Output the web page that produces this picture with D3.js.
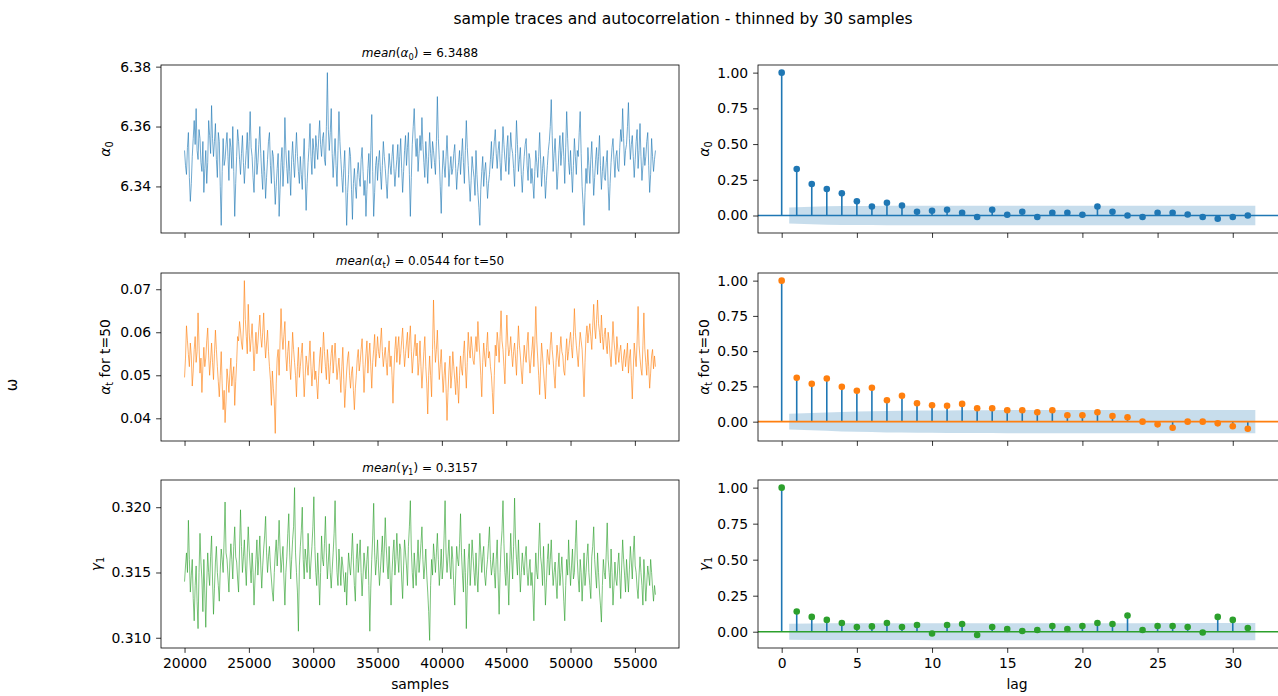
<!DOCTYPE html>
<html><head><meta charset="utf-8">
<script src="https://cdn.jsdelivr.net/npm/d3@7"></script>
<style>body{margin:0;background:#fff} svg{display:block;font-family:"DejaVu Sans",sans-serif}</style>
</head><body><svg id="c" width="1278" height="696"></svg>
<script>
// ---------------- data ----------------
const sampleStart = 20000, sampleStep = 75;
const alpha0Trace = [
6.352,6.347,6.344,6.353,6.358,6.343,6.335,6.341,6.350,6.356,6.362,6.354,6.366,6.352,6.349,6.359,6.356,6.348,6.345,6.355,
6.338,6.346,6.352,6.341,6.348,6.362,6.357,6.351,6.367,6.356,6.350,6.355,6.361,6.349,6.343,6.358,6.355,6.340,6.327,6.345,
6.356,6.347,6.349,6.354,6.358,6.350,6.342,6.356,6.353,6.346,6.360,6.345,6.330,6.341,6.350,6.359,6.355,6.349,6.344,6.351,
6.357,6.348,6.341,6.347,6.352,6.358,6.346,6.355,6.365,6.353,6.350,6.343,6.338,6.349,6.356,6.344,6.348,6.354,6.360,6.351,
6.344,6.339,6.352,6.345,6.336,6.343,6.349,6.355,6.358,6.347,6.341,6.352,6.350,6.342,6.334,6.340,6.346,6.351,6.330,6.339,
6.348,6.353,6.340,6.347,6.363,6.352,6.346,6.341,6.352,6.345,6.337,6.349,6.355,6.348,6.343,6.351,6.358,6.350,6.345,6.341,
6.350,6.344,6.339,6.349,6.356,6.343,6.332,6.341,6.348,6.353,6.361,6.350,6.344,6.356,6.352,6.346,6.357,6.353,6.349,6.356,
6.362,6.354,6.350,6.356,6.358,6.349,6.347,6.360,6.378,6.359,6.352,6.358,6.366,6.351,6.343,6.350,6.356,6.347,6.340,6.352,
6.365,6.355,6.349,6.343,6.338,6.346,6.352,6.340,6.327,6.338,6.344,6.353,6.350,6.339,6.329,6.341,6.346,6.340,6.336,6.344,
6.348,6.343,6.340,6.349,6.353,6.345,6.337,6.342,6.330,6.339,6.346,6.351,6.341,6.352,6.364,6.345,6.330,6.338,6.347,6.350,
6.342,6.348,6.352,6.345,6.339,6.347,6.355,6.350,6.346,6.341,6.336,6.344,6.351,6.347,6.344,6.350,6.354,6.346,6.340,6.345,
6.349,6.354,6.343,6.350,6.356,6.346,6.338,6.345,6.352,6.357,6.347,6.353,6.358,6.344,6.330,6.343,6.354,6.360,6.366,6.356,
6.350,6.356,6.345,6.351,6.357,6.352,6.363,6.354,6.348,6.343,6.355,6.349,6.341,6.350,6.358,6.351,6.346,6.355,6.352,6.348,
6.344,6.355,6.370,6.356,6.349,6.340,6.331,6.344,6.352,6.347,6.343,6.350,6.357,6.349,6.340,6.346,6.350,6.344,6.346,6.351,
6.354,6.346,6.339,6.345,6.348,6.352,6.344,6.350,6.356,6.348,6.341,6.352,6.362,6.353,6.347,6.341,6.335,6.342,6.350,6.346,
6.343,6.337,6.352,6.344,6.338,6.333,6.327,6.339,6.345,6.350,6.340,6.345,6.348,6.342,6.336,6.341,6.344,6.349,6.355,6.346,
6.350,6.355,6.359,6.351,6.346,6.352,6.355,6.348,6.342,6.351,6.360,6.354,6.349,6.345,6.353,6.357,6.344,6.350,6.358,6.353,
6.351,6.346,6.340,6.351,6.362,6.354,6.345,6.349,6.353,6.344,6.338,6.345,6.350,6.354,6.356,6.347,6.342,6.351,6.349,6.341,
6.346,6.341,6.336,6.345,6.352,6.348,6.343,6.350,6.358,6.349,6.340,6.346,6.350,6.344,6.336,6.342,6.347,6.352,6.355,6.360,
6.369,6.357,6.345,6.351,6.356,6.348,6.339,6.345,6.352,6.357,6.347,6.352,6.358,6.350,6.341,6.353,6.365,6.356,6.348,6.344,
6.352,6.345,6.338,6.347,6.356,6.350,6.344,6.352,6.350,6.358,6.365,6.351,6.340,6.334,6.327,6.338,6.346,6.341,6.353,6.347,
6.341,6.349,6.355,6.346,6.337,6.343,6.349,6.353,6.344,6.350,6.357,6.347,6.339,6.345,6.350,6.343,6.342,6.348,6.352,6.340,
6.332,6.341,6.348,6.353,6.356,6.349,6.343,6.350,6.352,6.346,6.345,6.353,6.359,6.355,6.366,6.356,6.347,6.352,6.354,6.360,
6.368,6.356,6.349,6.354,6.357,6.350,6.343,6.349,6.355,6.359,6.346,6.352,6.361,6.350,6.342,6.347,6.353,6.347,6.350,6.355,
6.358,6.347,6.338,6.344,6.356,6.350,6.345,6.349,6.352];
const alphaTTrace = [
0.0495,0.0540,0.0615,0.0580,0.0548,0.0520,0.0575,0.0545,0.0475,0.0510,0.0560,0.0590,0.0530,0.0555,0.0645,0.0570,0.0505,0.0540,0.0460,0.0520,
0.0565,0.0520,0.0540,0.0580,0.0610,0.0545,0.0500,0.0535,0.0575,0.0530,0.0490,0.0550,0.0605,0.0560,0.0520,0.0485,0.0450,0.0500,0.0555,0.0480,
0.0420,0.0465,0.0390,0.0440,0.0515,0.0490,0.0460,0.0505,0.0540,0.0475,0.0500,0.0520,0.0430,0.0485,0.0530,0.0590,0.0580,0.0625,0.0605,0.0575,
0.0560,0.0610,0.0720,0.0630,0.0590,0.0550,0.0665,0.0600,0.0555,0.0585,0.0620,0.0570,0.0510,0.0560,0.0600,0.0550,0.0575,0.0610,0.0640,0.0590,
0.0565,0.0600,0.0645,0.0580,0.0540,0.0575,0.0605,0.0555,0.0520,0.0490,0.0430,0.0510,0.0470,0.0440,0.0365,0.0480,0.0540,0.0560,0.0500,0.0580,
0.0655,0.0590,0.0560,0.0595,0.0625,0.0545,0.0510,0.0555,0.0580,0.0525,0.0490,0.0540,0.0600,0.0560,0.0530,0.0500,0.0450,0.0520,0.0565,0.0495,
0.0520,0.0550,0.0575,0.0505,0.0450,0.0495,0.0545,0.0525,0.0500,0.0540,0.0580,0.0520,0.0475,0.0515,0.0555,0.0490,0.0510,0.0480,0.0445,0.0500,
0.0540,0.0565,0.0505,0.0545,0.0600,0.0555,0.0520,0.0490,0.0560,0.0530,0.0480,0.0520,0.0550,0.0570,0.0505,0.0540,0.0575,0.0530,0.0490,0.0515,
0.0540,0.0500,0.0460,0.0520,0.0565,0.0490,0.0425,0.0470,0.0510,0.0540,0.0555,0.0500,0.0470,0.0505,0.0520,0.0465,0.0420,0.0470,0.0500,0.0540,
0.0560,0.0510,0.0530,0.0560,0.0585,0.0525,0.0460,0.0515,0.0550,0.0580,0.0505,0.0545,0.0575,0.0520,0.0470,0.0530,0.0560,0.0595,0.0520,0.0550,
0.0590,0.0555,0.0540,0.0575,0.0610,0.0555,0.0520,0.0545,0.0565,0.0530,0.0500,0.0550,0.0580,0.0520,0.0545,0.0500,0.0435,0.0510,0.0560,0.0590,
0.0530,0.0565,0.0590,0.0525,0.0550,0.0580,0.0610,0.0560,0.0520,0.0550,0.0575,0.0600,0.0540,0.0580,0.0615,0.0555,0.0505,0.0540,0.0565,0.0595,
0.0545,0.0575,0.0500,0.0530,0.0580,0.0520,0.0470,0.0510,0.0555,0.0590,0.0520,0.0480,0.0410,0.0500,0.0545,0.0500,0.0450,0.0560,0.0675,0.0580,
0.0530,0.0560,0.0605,0.0540,0.0490,0.0525,0.0560,0.0505,0.0460,0.0500,0.0530,0.0470,0.0395,0.0460,0.0510,0.0545,0.0470,0.0500,0.0555,0.0520,
0.0490,0.0455,0.0520,0.0480,0.0435,0.0500,0.0545,0.0515,0.0500,0.0550,0.0580,0.0520,0.0470,0.0530,0.0600,0.0560,0.0540,0.0590,0.0565,0.0535,
0.0525,0.0560,0.0590,0.0555,0.0625,0.0580,0.0545,0.0500,0.0450,0.0530,0.0575,0.0545,0.0520,0.0565,0.0600,0.0540,0.0555,0.0520,0.0500,0.0460,
0.0410,0.0500,0.0570,0.0545,0.0600,0.0575,0.0530,0.0590,0.0650,0.0580,0.0560,0.0520,0.0480,0.0565,0.0640,0.0575,0.0545,0.0560,0.0590,0.0550,
0.0520,0.0555,0.0575,0.0540,0.0500,0.0560,0.0615,0.0570,0.0545,0.0510,0.0480,0.0530,0.0570,0.0545,0.0530,0.0575,0.0600,0.0540,0.0505,0.0535,
0.0560,0.0590,0.0520,0.0575,0.0660,0.0580,0.0540,0.0500,0.0455,0.0520,0.0575,0.0545,0.0510,0.0480,0.0445,0.0515,0.0560,0.0540,0.0525,0.0570,
0.0600,0.0560,0.0535,0.0500,0.0470,0.0530,0.0570,0.0545,0.0520,0.0560,0.0590,0.0555,0.0545,0.0510,0.0500,0.0550,0.0585,0.0535,0.0555,0.0580,
0.0600,0.0565,0.0540,0.0590,0.0655,0.0600,0.0570,0.0545,0.0520,0.0565,0.0600,0.0580,0.0560,0.0510,0.0450,0.0530,0.0590,0.0615,0.0575,0.0600,
0.0620,0.0590,0.0560,0.0615,0.0665,0.0610,0.0585,0.0630,0.0675,0.0620,0.0600,0.0575,0.0640,0.0590,0.0560,0.0595,0.0610,0.0570,0.0550,0.0600,
0.0580,0.0545,0.0520,0.0570,0.0625,0.0580,0.0555,0.0525,0.0590,0.0560,0.0530,0.0555,0.0570,0.0535,0.0510,0.0545,0.0560,0.0520,0.0545,0.0575,
0.0505,0.0540,0.0560,0.0500,0.0445,0.0510,0.0575,0.0545,0.0520,0.0580,0.0660,0.0570,0.0540,0.0515,0.0500,0.0570,0.0645,0.0560,0.0530,0.0500,
0.0560,0.0520,0.0470,0.0505,0.0545,0.0560,0.0515,0.0545,0.0520];
const gamma1Trace = [
0.3143,0.3155,0.3165,0.3150,0.3190,0.3160,0.3135,0.3148,0.3160,0.3130,0.3113,0.3140,0.3155,0.3128,0.3107,0.3150,0.3180,0.3158,0.3145,0.3120,
0.3160,0.3135,0.3108,0.3142,0.3165,0.3150,0.3140,0.3162,0.3178,0.3145,0.3118,0.3138,0.3158,0.3170,0.3150,0.3140,0.3128,0.3152,0.3168,0.3160,
0.3150,0.3175,0.3204,0.3165,0.3160,0.3148,0.3135,0.3158,0.3172,0.3160,0.3145,0.3170,0.3185,0.3162,0.3158,0.3145,0.3135,0.3168,0.3198,0.3170,
0.3150,0.3162,0.3175,0.3155,0.3140,0.3165,0.3185,0.3168,0.3155,0.3142,0.3165,0.3150,0.3125,0.3145,0.3160,0.3175,0.3148,0.3162,0.3178,0.3155,
0.3138,0.3155,0.3168,0.3178,0.3193,0.3165,0.3150,0.3162,0.3170,0.3155,0.3145,0.3135,0.3128,0.3150,0.3165,0.3175,0.3155,0.3170,0.3190,0.3168,
0.3150,0.3160,0.3170,0.3145,0.3125,0.3150,0.3162,0.3180,0.3195,0.3165,0.3145,0.3160,0.3175,0.3185,0.3215,0.3165,0.3150,0.3135,0.3105,0.3155,
0.3170,0.3182,0.3200,0.3160,0.3145,0.3168,0.3160,0.3150,0.3180,0.3162,0.3145,0.3158,0.3170,0.3185,0.3208,0.3170,0.3150,0.3140,0.3165,0.3148,
0.3125,0.3150,0.3178,0.3160,0.3155,0.3172,0.3193,0.3165,0.3145,0.3158,0.3172,0.3150,0.3138,0.3152,0.3165,0.3180,0.3205,0.3170,0.3150,0.3140,
0.3168,0.3155,0.3140,0.3162,0.3155,0.3145,0.3135,0.3150,0.3125,0.3148,0.3165,0.3155,0.3148,0.3162,0.3180,0.3158,0.3140,0.3128,0.3160,0.3172,
0.3150,0.3162,0.3175,0.3150,0.3132,0.3148,0.3165,0.3155,0.3145,0.3160,0.3170,0.3140,0.3105,0.3138,0.3160,0.3178,0.3203,0.3165,0.3148,0.3160,
0.3175,0.3155,0.3140,0.3152,0.3165,0.3178,0.3150,0.3168,0.3192,0.3170,0.3155,0.3145,0.3170,0.3148,0.3125,0.3150,0.3165,0.3175,0.3148,0.3160,
0.3180,0.3162,0.3150,0.3172,0.3168,0.3145,0.3130,0.3155,0.3175,0.3165,0.3155,0.3140,0.3170,0.3185,0.3205,0.3168,0.3150,0.3138,0.3165,0.3152,
0.3140,0.3158,0.3175,0.3150,0.3160,0.3172,0.3185,0.3160,0.3145,0.3155,0.3168,0.3148,0.3135,0.3120,0.3098,0.3140,0.3160,0.3148,0.3172,0.3162,
0.3150,0.3165,0.3180,0.3160,0.3140,0.3152,0.3168,0.3145,0.3155,0.3178,0.3205,0.3165,0.3150,0.3162,0.3175,0.3155,0.3145,0.3170,0.3160,0.3140,
0.3125,0.3148,0.3170,0.3160,0.3155,0.3172,0.3195,0.3165,0.3148,0.3135,0.3168,0.3150,0.3107,0.3140,0.3160,0.3172,0.3140,0.3155,0.3175,0.3162,
0.3150,0.3140,0.3165,0.3148,0.3135,0.3158,0.3180,0.3165,0.3150,0.3162,0.3170,0.3148,0.3140,0.3152,0.3160,0.3172,0.3185,0.3160,0.3148,0.3155,
0.3165,0.3150,0.3138,0.3160,0.3175,0.3145,0.3118,0.3150,0.3170,0.3182,0.3205,0.3172,0.3150,0.3140,0.3165,0.3148,0.3125,0.3155,0.3180,0.3160,
0.3145,0.3170,0.3207,0.3175,0.3160,0.3148,0.3175,0.3155,0.3135,0.3150,0.3165,0.3155,0.3148,0.3162,0.3170,0.3150,0.3140,0.3152,0.3160,0.3140,
0.3150,0.3135,0.3113,0.3145,0.3165,0.3150,0.3145,0.3168,0.3188,0.3162,0.3155,0.3140,0.3170,0.3148,0.3125,0.3142,0.3160,0.3172,0.3148,0.3160,
0.3175,0.3155,0.3140,0.3150,0.3158,0.3142,0.3130,0.3152,0.3165,0.3140,0.3150,0.3162,0.3145,0.3128,0.3113,0.3140,0.3160,0.3148,0.3175,0.3155,
0.3140,0.3155,0.3168,0.3145,0.3150,0.3172,0.3190,0.3160,0.3145,0.3135,0.3160,0.3150,0.3128,0.3145,0.3165,0.3140,0.3150,0.3162,0.3172,0.3150,
0.3140,0.3130,0.3162,0.3170,0.3185,0.3160,0.3148,0.3138,0.3165,0.3150,0.3135,0.3125,0.3112,0.3140,0.3160,0.3150,0.3145,0.3165,0.3188,0.3160,
0.3150,0.3138,0.3168,0.3150,0.3125,0.3140,0.3158,0.3145,0.3140,0.3155,0.3165,0.3148,0.3130,0.3155,0.3175,0.3160,0.3148,0.3135,0.3160,0.3148,
0.3135,0.3152,0.3170,0.3158,0.3145,0.3165,0.3178,0.3155,0.3150,0.3138,0.3130,0.3148,0.3162,0.3150,0.3140,0.3125,0.3160,0.3145,0.3128,0.3142,
0.3155,0.3148,0.3140,0.3160,0.3150,0.3138,0.3128,0.3140,0.3133];

const lags = [0,1,2,3,4,5,6,7,8,9,10,11,12,13,14,15,16,17,18,19,20,21,22,23,24,25,26,27,28,29,30,31];
const acfAlpha0 = [1.0,0.326,0.220,0.185,0.155,0.099,0.063,0.089,0.070,0.026,0.033,0.040,0.019,-0.010,0.040,0.005,
  0.026,-0.010,0.019,0.019,0.005,0.063,0.026,0.000,-0.010,0.019,0.019,0.007,-0.010,-0.023,-0.010,0.000];
const acfAlphaT = [1.0,0.311,0.268,0.306,0.247,0.219,0.240,0.152,0.183,0.131,0.116,0.112,0.126,0.095,0.095,0.081,
  0.081,0.067,0.081,0.045,0.045,0.067,0.040,0.031,0.000,-0.019,-0.043,0.000,0.000,-0.012,-0.033,-0.050];
const acfGamma1 = [1.0,0.140,0.103,0.082,0.061,0.033,0.037,0.061,0.033,0.047,-0.012,0.047,0.054,-0.023,0.033,0.019,
  0.005,0.012,0.040,0.019,0.040,0.061,0.054,0.112,0.012,0.040,0.040,0.033,-0.005,0.103,0.082,0.026];
// confidence band half-widths for lags 1..31
const confAlpha0 = [0.056,0.062,0.064,0.066,0.067,0.067,0.068,0.068,0.068,0.068,0.068,0.068,0.068,0.068,0.069,0.069,
  0.069,0.069,0.069,0.069,0.069,0.069,0.069,0.069,0.069,0.069,0.069,0.069,0.069,0.069,0.069];
const confAlphaT = [0.056,0.061,0.065,0.069,0.072,0.074,0.076,0.077,0.079,0.079,0.080,0.081,0.081,0.081,0.082,0.082,
  0.082,0.082,0.083,0.083,0.083,0.083,0.083,0.083,0.083,0.083,0.083,0.083,0.083,0.083,0.083];
const confGamma1 = [0.056,0.057,0.058,0.058,0.058,0.058,0.058,0.058,0.058,0.059,0.059,0.059,0.059,0.059,0.059,0.059,
  0.059,0.059,0.059,0.059,0.059,0.059,0.059,0.059,0.060,0.060,0.060,0.060,0.060,0.060,0.060];

const sampleTicks = [20000,25000,30000,35000,40000,45000,50000,55000];
const lagTicks = [0,5,10,15,20,25,30];
const acfTicks = [0,0.25,0.5,0.75,1.0];
const traceTicksA0 = [6.34,6.36,6.38];
const traceTicksAT = [0.04,0.05,0.06,0.07];
const traceTicksG1 = [0.310,0.315,0.320];
const titleText = "sample traces and autocorrelation - thinned by 30 samples";
const meanA0 = 6.3488, meanAT = 0.0544, meanG1 = 0.3157;

// ---------------- drawing ----------------
const C = ["#1f77b4","#ff7f0e","#2ca02c"];
const svg = d3.select("#c");
const rows = [{top:65,bottom:233},{top:273,bottom:441},{top:480,bottom:648}];
const leftX = [161,679], rightX = [758,1279];
const FS = 13.9, TFS = 12;

const panels = [
  {trace:alpha0Trace, ticks:traceTicksA0, fmt:".2f", acf:acfAlpha0, conf:confAlpha0,
   label:[["α","i"],["0","sub"]], title:[["mean","i"],["(",""],["α","i"],["0","sub"],[") = "+meanA0.toFixed(4),"up"]]},
  {trace:alphaTTrace, ticks:traceTicksAT, fmt:".2f", acf:acfAlphaT, conf:confAlphaT,
   label:[["α","i"],["t","sub"],[" for t=50","up"]], title:[["mean","i"],["(",""],["α","i"],["t","sub"],[") = "+meanAT.toFixed(4)+" for t=50","up"]]},
  {trace:gamma1Trace, ticks:traceTicksG1, fmt:".3f", acf:acfGamma1, conf:confGamma1,
   label:[["γ","i"],["1","sub"]], title:[["mean","i"],["(",""],["γ","i"],["1","sub"],[") = "+meanG1.toFixed(4),"up"]]}
];

function richText(sel, parts, size){
  parts.forEach(([t,k])=>{
    const ts = sel.append("tspan").text(t);
    if(k==="i") ts.attr("font-style","italic");
    if(k==="sub") ts.attr("font-size", size*0.7).attr("dy", size*0.22);
    if(k==="up") ts.attr("dy", -size*0.22);
  });
}
function styleAxis(g){
  g.selectAll(".domain").remove();
  g.selectAll(".tick line").attr("stroke","#000").attr("stroke-width",0.8);
  g.selectAll(".tick text").attr("font-size",FS).attr("font-family","DejaVu Sans").attr("fill","#000");
  g.attr("font-size",FS);
}
function margin(ext){ const d = ext[1]-ext[0]; return [ext[0]-0.05*d, ext[1]+0.05*d]; }

const xSamples = d3.scaleLinear()
  .domain(margin([sampleStart, sampleStart + sampleStep*(alpha0Trace.length-1)]))
  .range(leftX);
const xLag = d3.scaleLinear().domain(margin([0, 31.5])).range(rightX);

const defs = svg.append("defs");

panels.forEach((p,r)=>{
  const row = rows[r];
  const color = C[r];
  // ---- trace panel ----
  const y = d3.scaleLinear().domain(margin(d3.extent(p.trace))).range([row.bottom,row.top]);
  const g = svg.append("g");
  const cid = "clipL"+r;
  defs.append("clipPath").attr("id",cid).append("rect")
    .attr("x",leftX[0]).attr("y",row.top).attr("width",leftX[1]-leftX[0]).attr("height",row.bottom-row.top);
  const line = d3.line().x((d,i)=>xSamples(sampleStart+i*sampleStep)).y(d=>y(d));
  g.append("path").datum(p.trace).attr("d",line).attr("fill","none")
    .attr("stroke",color).attr("stroke-width",0.7).attr("stroke-opacity",0.9)
    .attr("stroke-linejoin","round").attr("clip-path",`url(#${cid})`);
  const ya = g.append("g").attr("transform",`translate(${leftX[0]},0)`)
    .call(d3.axisLeft(y).tickValues(p.ticks).tickFormat(d3.format(p.fmt)).tickSizeOuter(0).tickSize(4.9).tickPadding(4.9));
  styleAxis(ya);
  const xa = g.append("g").attr("transform",`translate(0,${row.bottom})`)
    .call(d3.axisBottom(xSamples).tickValues(sampleTicks).tickFormat(r===2?d3.format("d"):"").tickSizeOuter(0).tickSize(4.9).tickPadding(4.9));
  styleAxis(xa);
  g.append("rect").attr("x",leftX[0]).attr("y",row.top).attr("width",leftX[1]-leftX[0]).attr("height",row.bottom-row.top)
    .attr("fill","none").attr("stroke","#000").attr("stroke-width",0.8);
  let maxW = 0; ya.selectAll("text").each(function(){ maxW=Math.max(maxW,this.getComputedTextLength()); });
  const lx = leftX[0]-4.9-4.9-maxW-5.5-5;
  const yl = g.append("text").attr("transform",`translate(${lx},${(row.top+row.bottom)/2}) rotate(-90)`)
    .attr("text-anchor","middle").attr("font-size",FS).attr("fill","#000");
  richText(yl,p.label,FS);
  const tt = g.append("text").attr("x",(leftX[0]+leftX[1])/2).attr("y",row.top-8)
    .attr("text-anchor","middle").attr("font-size",TFS).attr("fill","#000");
  richText(tt,p.title,TFS);

  // ---- ACF panel ----
  const bandLow = p.conf.map(v=>-v);
  const ya2 = d3.scaleLinear().domain(margin([Math.min(d3.min(p.acf),d3.min(bandLow)), Math.max(d3.max(p.acf),d3.max(p.conf))]))
    .range([row.bottom,row.top]);
  const g2 = svg.append("g");
  const cid2 = "clipR"+r;
  defs.append("clipPath").attr("id",cid2).append("rect")
    .attr("x",rightX[0]).attr("y",row.top).attr("width",rightX[1]-rightX[0]).attr("height",row.bottom-row.top);
  const inner = g2.append("g").attr("clip-path",`url(#${cid2})`);
  const bandLags = lags.slice(1).map((l,i,a)=> i===0 ? l-0.5 : (i===a.length-1 ? l+0.5 : l));
  const area = d3.area().x((d,i)=>xLag(bandLags[i])).y0(d=>ya2(-d)).y1(d=>ya2(d));
  inner.append("path").datum(p.conf).attr("d",area).attr("fill",C[0]).attr("fill-opacity",0.25);
  inner.selectAll("line.stem").data(p.acf).enter().append("line")
    .attr("x1",(d,i)=>xLag(lags[i])).attr("x2",(d,i)=>xLag(lags[i]))
    .attr("y1",ya2(0)).attr("y2",d=>ya2(d)).attr("stroke",C[0]).attr("stroke-width",1.6);
  inner.append("line").attr("x1",rightX[0]).attr("x2",rightX[1]).attr("y1",ya2(0)).attr("y2",ya2(0))
    .attr("stroke",color).attr("stroke-width",1.6);
  inner.selectAll("circle").data(p.acf).enter().append("circle")
    .attr("cx",(d,i)=>xLag(lags[i])).attr("cy",d=>ya2(d)).attr("r",3.3).attr("fill",color);
  const yb = g2.append("g").attr("transform",`translate(${rightX[0]},0)`)
    .call(d3.axisLeft(ya2).tickValues(acfTicks).tickFormat(d3.format(".2f")).tickSizeOuter(0).tickSize(4.9).tickPadding(4.9));
  styleAxis(yb);
  const xb = g2.append("g").attr("transform",`translate(0,${row.bottom})`)
    .call(d3.axisBottom(xLag).tickValues(lagTicks).tickFormat(r===2?d3.format("d"):"").tickSizeOuter(0).tickSize(4.9).tickPadding(4.9));
  styleAxis(xb);
  g2.append("rect").attr("x",rightX[0]).attr("y",row.top).attr("width",rightX[1]-rightX[0]).attr("height",row.bottom-row.top)
    .attr("fill","none").attr("stroke","#000").attr("stroke-width",0.8);
  let maxW2 = 0; yb.selectAll("text").each(function(){ maxW2=Math.max(maxW2,this.getComputedTextLength()); });
  const lx2 = rightX[0]-4.9-4.9-maxW2-5.5-3;
  const yl2 = g2.append("text").attr("transform",`translate(${lx2},${(row.top+row.bottom)/2}) rotate(-90)`)
    .attr("text-anchor","middle").attr("font-size",FS).attr("fill","#000");
  richText(yl2,p.label,FS);
});

svg.append("text").attr("x",(leftX[0]+leftX[1])/2).attr("y",689).attr("text-anchor","middle").attr("font-size",FS).text("samples");
svg.append("text").attr("x",1017).attr("y",689).attr("text-anchor","middle").attr("font-size",FS).text("lag");
svg.append("text").attr("x",683).attr("y",24).attr("text-anchor","middle").attr("font-size",15.5).text(titleText);
svg.append("text").attr("transform","translate(17,385) rotate(-90)").attr("text-anchor","middle").attr("font-size",15).text("ω");
</script></body></html>
